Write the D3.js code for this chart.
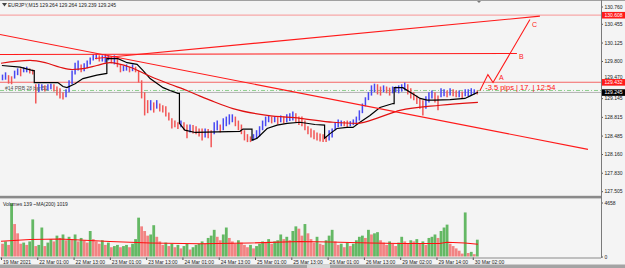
<!DOCTYPE html>
<html>
<head>
<meta charset="utf-8">
<title>EURJPY M15</title>
<script src="https://cdn.jsdelivr.net/npm/d3@7"></script>
<style>
  body { margin: 0; background: #f4f4f4; }
  svg { display: block; font-family: "Liberation Sans", Arial, sans-serif; }
</style>
</head>
<body>
<svg id="chart" width="625" height="268"></svg>
<script>
// Price bars, one per hour (hour 0 = 19 Mar 13:00)
const barHigh = [
  129.56,129.60,129.55,129.53,129.63,129.67,129.67,129.69,129.70,129.67,
  129.65,129.39,129.40,129.39,129.37,129.39,129.40,129.39,129.35,129.32,
  129.25,129.30,129.46,129.63,129.77,129.81,129.74,129.76,129.81,129.86,
  129.92,129.93,129.90,129.90,129.92,129.90,129.88,129.90,129.84,129.74,
  129.72,129.74,129.70,129.74,129.70,129.63,129.46,129.25,129.11,129.11,
  129.07,129.11,129.05,129.02,129.00,128.89,128.79,128.75,128.72,128.75,
  128.72,128.68,128.68,128.67,128.65,128.61,128.61,128.61,128.60,128.58,
  128.72,128.75,128.68,128.79,128.82,128.86,128.86,128.82,128.75,128.68,
  128.58,128.51,128.47,128.51,128.58,128.65,128.75,128.82,128.84,128.82,
  128.82,128.81,128.84,128.82,128.86,128.88,128.91,128.88,128.82,128.82,
  128.75,128.65,128.61,128.58,128.54,128.52,128.51,128.47,128.58,128.61,
  128.72,128.77,128.75,128.74,128.75,128.74,128.77,128.82,128.93,129.05,
  129.16,129.25,129.37,129.40,129.39,129.35,129.37,129.35,129.33,129.35,
  129.35,129.37,129.39,129.42,129.39,129.32,129.25,129.19,129.14,129.11,
  129.18,129.25,129.28,129.25,129.19,129.32,129.30,129.28,129.32,129.30,
  129.28,129.28,129.26,129.30,129.30,129.32,129.30,129.28
];
const barLow = [
  129.46,129.47,129.40,129.39,129.49,129.55,129.53,129.60,129.60,129.58,
  129.56,129.05,129.25,129.28,129.26,129.28,129.30,129.26,129.19,129.14,
  129.12,129.16,129.25,129.39,129.56,129.63,129.60,129.62,129.67,129.74,
  129.81,129.83,129.79,129.79,129.77,129.81,129.76,129.74,129.69,129.60,
  129.62,129.63,129.60,129.62,129.60,129.42,129.14,128.84,128.88,128.93,
  128.89,128.96,128.91,128.89,128.82,128.75,128.61,128.63,128.60,128.63,
  128.58,128.44,128.54,128.52,128.51,128.47,128.40,128.45,128.44,128.28,
  128.51,128.58,128.54,128.58,128.65,128.68,128.72,128.65,128.58,128.51,
  128.40,128.37,128.37,128.40,128.44,128.47,128.58,128.65,128.72,128.70,
  128.72,128.68,128.72,128.70,128.72,128.74,128.75,128.72,128.67,128.65,
  128.58,128.51,128.45,128.42,128.40,128.38,128.37,128.37,128.40,128.45,
  128.58,128.63,128.65,128.65,128.63,128.65,128.67,128.68,128.75,128.88,
  129.00,129.11,129.19,129.25,129.21,129.19,129.25,129.23,129.19,129.23,
  129.25,129.23,129.26,129.28,129.21,129.14,129.11,129.04,128.96,128.84,
  128.96,129.07,129.14,129.07,128.93,129.16,129.18,129.16,129.19,129.18,
  129.16,129.16,129.14,129.18,129.18,129.19,129.21,129.21
];
const volumes = [
  1100,1300,1000,4600,2800,2000,1100,1200,1000,1300,
  3200,900,1000,2500,900,1200,1500,1300,1800,1600,
  1900,1400,1700,1500,1900,1300,1600,1400,1200,2200,
  1500,1300,1100,1400,1000,1200,800,900,1000,800,
  900,1000,800,1100,1500,3350,2600,2200,1800,1900,
  2700,1700,1300,1000,1200,900,1100,800,1000,700,
  900,1100,600,800,1000,1100,1300,1100,1600,1800,
  2300,1700,1400,1900,2500,1600,1300,1100,1400,1200,
  1000,800,1000,700,900,1100,1300,1200,1500,1100,
  1300,1400,1900,1500,1700,1400,2200,2600,2400,1800,
  2800,2000,1500,1200,1700,1100,1000,1400,1800,2300,
  1300,1000,1100,800,1200,900,1100,1400,1700,1800,
  1600,2300,1900,2000,2100,1400,1200,1000,1300,1100,
  900,1200,1700,1300,1100,1400,1300,1500,1100,1300,
  1000,1600,1700,1900,1600,2200,2500,2750,1100,900,
  700,500,250,3800,300,400,200,1450
];

// black daily average line (a repeated hour is the daily reset)
const dayAvgHour = [0.3,6.3,10.6,11,11,18.8,20.5,21.8,24.5,27.1,31.7,35,35,38.7,41.7,45,47,49.3,53.6,55.9,58.5,
  59,59,60.8,64.2,79,80,83,83,84.7,88,91.3,94.6,98.9,103.8,107,107,108.8,111.1,114.4,116.4,118.7,122,125.3,129.6,
  130,130,132.9,135.3,138.6,140.9,143.5,148.5,153.4,155,157.7];
const dayAvgPrice = [129.72,129.69,129.63,129.63,129.42,129.42,129.35,129.33,129.40,129.49,129.55,129.58,129.84,
  129.84,129.77,129.74,129.63,129.49,129.33,129.28,129.23,129.23,128.70,128.58,128.54,128.56,128.60,128.60,128.40,
  128.44,128.61,128.67,128.70,128.72,128.68,128.67,128.44,128.52,128.61,128.63,128.63,128.72,128.84,128.98,129.05,
  129.05,129.33,129.33,129.25,129.14,129.11,129.11,129.12,129.14,129.18,129.25];

// red moving average on price
const maHour = [0,9.6,14.6,19.5,23.5,27.8,31.7,36,42.7,49.3,55.9,61.5,65.8,69.1,76.7,88,98.9,109.8,117.7,125.3,131.9,145.2,157.7];
const maPrice = [129.76,129.81,129.77,129.69,129.65,129.67,129.72,129.77,129.69,129.53,129.39,129.28,129.18,129.11,
  128.96,128.84,128.79,128.72,128.70,128.81,128.93,129.02,129.07];

// MA(200) of volumes
const volMaHour = [0,9.6,19.5,36,49.3,65.8,82.3,98.9,108.8,122,132,145,147.5,153.4,157.7];
const volMaValue = [1320,1470,1510,1290,1165,1100,1165,1290,1250,1165,1120,1120,1230,1165,1050];

const priceTicks = [130.760,130.455,130.125,129.800,129.470,129.145,128.815,128.485,128.160,127.830,127.505];
const timeTickHours = [0,12,24,36,48,60,72,84,96,108,120,132,144,156];
const timeTickLabels = ["19 Mar 2021","22 Mar 01:00","22 Mar 13:00","23 Mar 01:00","23 Mar 13:00","24 Mar 01:00",
  "24 Mar 13:00","25 Mar 01:00","25 Mar 13:00","26 Mar 01:00","26 Mar 13:00","29 Mar 02:00","29 Mar 14:00","30 Mar 02:00"];

// drawn objects: trendlines [hour, price] and ABC projection
const trendLines = [
  [[-0.33,130.267],[194.1,128.242]],
  [[-0.33,129.915],[170.6,129.933]],
  [[31.1,129.844],[178.2,130.59]]
];
const abcHour = [158.4,161.0,162.7,174.9];
const abcPrice = [129.28,129.56,129.42,130.53];
const abcLabels = [{t:"A",h:164.7,p:129.465},{t:"B",h:171.3,p:129.835},{t:"C",h:175.6,p:130.40}];

const W = 625, H = 268, plotRight = 601;
const svg = d3.select("#chart");
svg.append("rect").attr("width", W).attr("height", H).attr("fill", "#f4f4f4");

const x = d3.scaleLinear().domain([0, 198.4]).range([1, plotRight]);
const yPrice = d3.scaleLinear().domain([127.505, 130.760]).range([191.2, 6.5]);
const yVol = d3.scaleLinear().domain([0, 4658]).range([256.5, 202.5]);

svg.append("clipPath").attr("id", "mainClip").append("rect")
  .attr("x", 0).attr("y", 0).attr("width", plotRight).attr("height", 195);
const main = svg.append("g").attr("clip-path", "url(#mainClip)");

// horizontal levels
const hline = (p, color, width, dash) => main.append("line")
  .attr("x1", 0).attr("x2", plotRight)
  .attr("y1", yPrice(p)).attr("y2", yPrice(p))
  .attr("stroke", color).attr("stroke-width", width)
  .attr("stroke-dasharray", dash || null);
hline(130.608, "#f7a8a8", 1.2);
hline(129.425, "#f56565", 1.2);
hline(129.28, "#8fcf8f", 1, "4,2,1,2");
hline(129.245, "#b4b4b4", 1);

// price bars
const mids = barHigh.map((h, i) => (h + barLow[i]) / 2);
main.selectAll("line.bar").data(barHigh).join("line")
  .attr("class", "bar")
  .attr("x1", (d, i) => x(i + 0.5)).attr("x2", (d, i) => x(i + 0.5))
  .attr("y1", d => yPrice(d)).attr("y2", (d, i) => yPrice(barLow[i]))
  .attr("stroke", (d, i) => (i === 0 || mids[i] >= mids[i - 1]) ? "#4848f2" : "#f25656")
  .attr("stroke-width", 1.5);

// indicators
main.append("path")
  .attr("d", d3.line().x(d => x(d)).y((d, i) => yPrice(dayAvgPrice[i]))(dayAvgHour))
  .attr("fill", "none").attr("stroke", "#000").attr("stroke-width", 1.2);
main.append("path")
  .attr("d", d3.line().curve(d3.curveMonotoneX).x(d => x(d)).y((d, i) => yPrice(maPrice[i]))(maHour))
  .attr("fill", "none").attr("stroke", "#e01010").attr("stroke-width", 1.2);

// trendlines
main.selectAll("line.trend").data(trendLines).join("line")
  .attr("class", "trend")
  .attr("x1", d => x(d[0][0])).attr("y1", d => yPrice(d[0][1]))
  .attr("x2", d => x(d[1][0])).attr("y2", d => yPrice(d[1][1]))
  .attr("stroke", "#ff1a1a").attr("stroke-width", 1.1);

// ABC projection
main.append("path")
  .attr("d", d3.line().x(d => x(d)).y((d, i) => yPrice(abcPrice[i]))(abcHour))
  .attr("fill", "none").attr("stroke", "#ff1a1a").attr("stroke-width", 1.1);
main.selectAll("text.abc").data(abcLabels).join("text")
  .attr("class", "abc")
  .attr("x", d => x(d.h)).attr("y", d => yPrice(d.p))
  .attr("font-size", 7).attr("fill", "#ff2020").text(d => d.t);
main.append("text")
  .attr("x", x(160.1)).attr("y", yPrice(129.28))
  .attr("font-size", 7.5).attr("fill", "#ff1010")
  .text("-3.5 pips | 17. | 12:54");

main.append("text").attr("x", 5).attr("y", 90)
  .attr("font-size", 5).attr("fill", "#555").text("#14 PRB 28 bar 51");

// title
svg.append("path").attr("d", "M2,3 L7,3 L4.5,6.5 Z").attr("fill", "#444");
svg.append("text").attr("x", 8).attr("y", 6.8).attr("font-size", 5).attr("fill", "#222")
  .text("EURJPY,M15  129.264 129.264 129.239 129.245");
svg.append("path").attr("d", "M476,0 L482,0 L479,3 Z").attr("fill", "#7a7a7a");

// frame lines
svg.append("line").attr("x1", 0).attr("x2", W).attr("y1", 0.5).attr("y2", 0.5).attr("stroke", "#a0a0a0");
svg.append("rect").attr("x", 0).attr("y", 195.8).attr("width", plotRight).attr("height", 2.6).attr("fill", "#8a8a8a");

// price axis
const pAxis = svg.append("g").attr("transform", `translate(${plotRight},0)`)
  .call(d3.axisRight(yPrice).tickValues(priceTicks).tickFormat(d3.format(".3f")).tickSize(2).tickPadding(1.5));
pAxis.select(".domain").remove();
pAxis.selectAll("text").attr("font-size", 5).attr("fill", "#222").attr("font-family", null);
pAxis.selectAll("line").attr("stroke", "#555");
// the 129.470 label peeks out above the red marker box
pAxis.selectAll(".tick").filter(d => d === 129.470).select("text").attr("dy", "-0.25em");

// price markers
const marker = (p, label, bg) => {
  const g = svg.append("g").attr("transform", `translate(${plotRight + 1},${yPrice(p)})`);
  g.append("rect").attr("x", 0).attr("y", -3.2).attr("width", W - plotRight).attr("height", 6.6).attr("fill", bg);
  g.append("text").attr("x", 2.5).attr("y", 1.8).attr("font-size", 5).attr("fill", "#fff").text(label);
};
marker(130.608, "130.608", "#ff1a1a");
marker(129.425, "129.432", "#ff1a1a");
marker(129.245, "129.245", "#000");

// volume panel
const vol = svg.append("g");
vol.selectAll("line.vbar").data(volumes).join("line")
  .attr("class", "vbar")
  .attr("x1", (d, i) => x(i + 0.5)).attr("x2", (d, i) => x(i + 0.5))
  .attr("y1", yVol(0)).attr("y2", d => yVol(d))
  .attr("stroke", (d, i) => (i > 0 && d > volumes[i - 1]) ? "#4cae4c" : "#f27070")
  .attr("stroke-width", 2.8).attr("opacity", 0.85);
vol.append("path")
  .attr("d", d3.line().x(d => x(d)).y((d, i) => yVol(volMaValue[i]))(volMaHour))
  .attr("fill", "none").attr("stroke", "#ff1010").attr("stroke-width", 1.1);
vol.append("text").attr("x", 3).attr("y", 205.5).attr("font-size", 5).attr("fill", "#222")
  .text("Volumes 139  ~MA(200) 1019");

const vAxis = svg.append("g").attr("transform", `translate(${plotRight},0)`)
  .call(d3.axisRight(yVol).tickValues([0, 4658]).tickFormat(d3.format("d")).tickSize(2).tickPadding(1.5));
vAxis.select(".domain").remove();
vAxis.selectAll("text").attr("font-size", 5).attr("fill", "#222").attr("font-family", null);
vAxis.selectAll("line").attr("stroke", "#555");

svg.append("line").attr("x1", plotRight + 0.5).attr("x2", plotRight + 0.5).attr("y1", 0).attr("y2", 258)
  .attr("stroke", "#7a7a7a");

// time axis
const tAxis = svg.append("g").attr("transform", "translate(0,257.5)")
  .call(d3.axisBottom(x).tickValues(timeTickHours).tickFormat((d, i) => timeTickLabels[i]).tickSize(2.5).tickSizeOuter(0).tickPadding(0.5));
tAxis.select(".domain").attr("stroke", "#8a8a8a").attr("d", `M0,0.5H${plotRight}`);
tAxis.selectAll("line").attr("stroke", "#555");
tAxis.selectAll("text").attr("font-size", 5).attr("fill", "#222").attr("font-family", null)
  .attr("text-anchor", "start").attr("dx", 1.5);

// scrollbar
svg.append("rect").attr("x", 0).attr("y", 264.5).attr("width", W).attr("height", 3.5).attr("fill", "#a4a4a4");
svg.append("rect").attr("x", 307).attr("y", 264.5).attr("width", 23).attr("height", 3.5).attr("fill", "#d6d6d6");
</script>
</body>
</html>
